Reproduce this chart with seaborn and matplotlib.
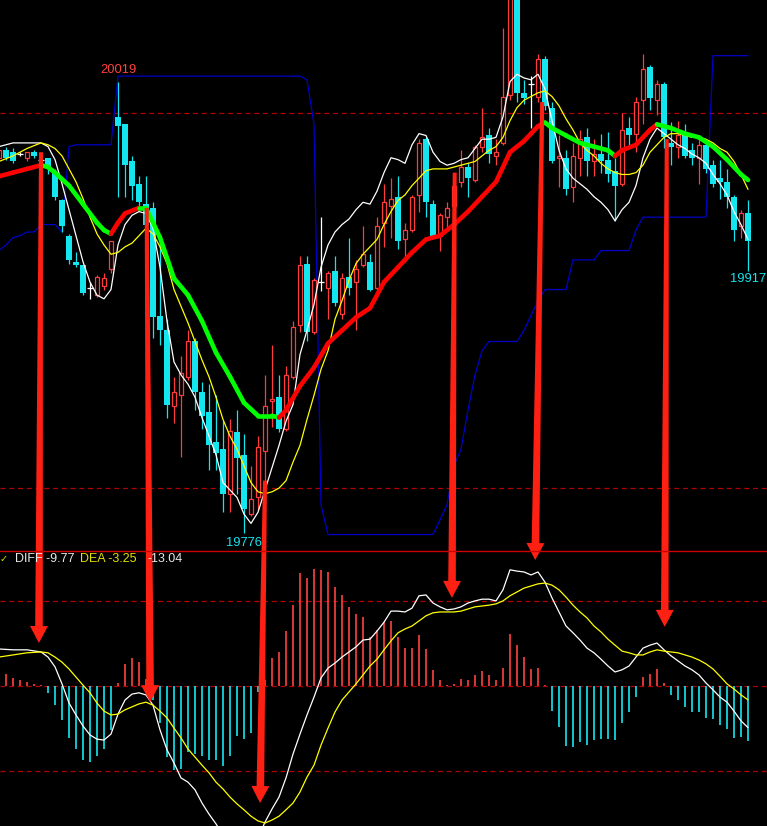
# %%
"""
Futures candlestick chart with moving averages, trailing channel line and MACD,
with red arrows marking the turning points.
"""

# %%
import numpy as np
import pandas as pd
import matplotlib
matplotlib.use("Agg")
import matplotlib.pyplot as plt
from matplotlib.collections import LineCollection
from matplotlib.lines import Line2D
from matplotlib.patches import Polygon
import seaborn as sns

# %%
# OHLC, one entry per bar (index 0 is the partial bar at the left edge)
opens = [19978, 19982, 19981, 19980, 19978, 19981, 19977, 19978, 19970, 19955,
         19936, 19922, 19920, 19908, 19904, 19909, 19918, 20000, 19996, 19976,
         19964, 19953, 19951, 19893, 19885, 19844, 19850, 19860, 19879, 19852,
         19841, 19825, 19821, 19797, 19830, 19818, 19786, 19795, 19820, 19847,
         19849, 19832, 19860, 19888, 19921, 19884, 19911, 19908, 19917, 19894,
         19914, 19911, 19920, 19922, 19908, 19943, 19952, 19957, 19934, 19939,
         19958, 19988, 19953, 19936, 19946, 19952, 19965, 19973, 19966, 19984,
         19990, 19979, 19986, 20012, 20071, 20013, 20018, 20011, 20031, 20005,
         19978, 19978, 19962, 19978, 19989, 19976, 19980, 19977, 19971, 19964,
         19994, 19991, 20009, 20027, 20009, 20018, 19986, 19984, 19991, 19982,
         19978, 19985, 19974, 19967, 19965, 19957, 19941, 19948]
highs = [19983, 19984, 19983, 19981, 19981, 19982, 19978, 19978, 19972, 19956,
         19937, 19927, 19920, 19911, 19915, 19916, 19933, 20019, 19996, 19979,
         19968, 19968, 19954, 19935, 19891, 19860, 19871, 19885, 19881, 19857,
         19856, 19850, 19836, 19837, 19842, 19829, 19812, 19828, 19861, 19877,
         19861, 19866, 19890, 19925, 19925, 19913, 19946, 19917, 19925, 19916,
         19935, 19923, 19941, 19926, 19946, 19964, 19967, 19968, 19943, 19958,
         19988, 19989, 19955, 19948, 19954, 19967, 19982, 19975, 19985, 20005,
         19994, 19988, 20048, 20075, 20080, 20020, 20022, 20034, 20033, 20008,
         19990, 19982, 19986, 19993, 19994, 19988, 19991, 19992, 19978, 20002,
         20000, 20011, 20034, 20028, 20020, 20019, 19997, 19998, 19996, 19986,
         19988, 19988, 19977, 19977, 19972, 19958, 19950, 19955]
lows = [19977, 19977, 19975, 19979, 19976, 19978, 19976, 19969, 19955, 19938,
        19921, 19919, 19904, 19902, 19903, 19907, 19916, 19957, 19957, 19955,
        19950, 19929, 19881, 19877, 19838, 19835, 19817, 19858, 19842, 19832,
        19810, 19810, 19787, 19787, 19797, 19776, 19785, 19788, 19804, 19833,
        19830, 19831, 19859, 19884, 19879, 19883, 19906, 19891, 19898, 19891,
        19904, 19885, 19919, 19906, 19905, 19930, 19935, 19929, 19922, 19938,
        19949, 19946, 19935, 19928, 19939, 19951, 19962, 19957, 19965, 19981,
        19975, 19974, 19985, 20009, 20008, 20007, 19994, 20008, 20004, 19975,
        19962, 19958, 19954, 19968, 19968, 19968, 19970, 19965, 19944, 19963,
        19985, 19981, 19996, 20004, 20001, 19983, 19974, 19978, 19978, 19974,
        19964, 19970, 19962, 19956, 19951, 19933, 19935, 19917]
closes = [19982, 19978, 19976, 19980, 19981, 19979, 19977, 19973, 19957, 19941,
          19923, 19920, 19905, 19908, 19914, 19913, 19933, 19995, 19974, 19963,
          19954, 19942, 19892, 19885, 19845, 19852, 19862, 19879, 19852, 19839,
          19823, 19819, 19797, 19831, 19816, 19789, 19794, 19822, 19844, 19848,
          19832, 19861, 19887, 19920, 19884, 19912, 19911, 19916, 19900, 19913,
          19908, 19918, 19926, 19907, 19941, 19954, 19956, 19933, 19939, 19957,
          19986, 19954, 19936, 19947, 19951, 19963, 19973, 19967, 19984, 19989,
          19980, 19981, 20011, 20068, 20013, 20010, 20018, 20031, 20006, 19976,
          19979, 19961, 19979, 19988, 19976, 19980, 19976, 19969, 19963, 19993,
          19990, 20008, 20026, 20010, 20018, 19989, 19984, 19990, 19979, 19978,
          19985, 19972, 19964, 19965, 19957, 19939, 19948, 19933]

# fast (white) and slow (yellow) averages, None where not read
ma_white = [19984, None, 19986, None, 19986, None, 19986, 19984, 19977, 19964,
            19950, 19936, 19922, 19911, 19904, 19902, 19907, 19931, 19942, 19947,
            19949, 19948, 19940, 19919, 19890, 19868, 19861, 19856, 19849, 19838,
            19828, 19818, 19803, 19799, 19795, 19786, 19781, 19787, 19799, 19811,
            19823, 19836, 19845, 19872, 19885, 19899, 19919, 19931, 19938, 19942,
            19945, 19950, 19954, 19953, 19960, 19970, 19978, 19977, 19975, 19985,
            19991, 19990, 19981, 19976, 19974, 19975, 19977, 19978, 19983, 19988,
            19988, 19989, 20000, 20019, 20023, 20021, 20020, 20023, 20015, 19998,
            19982, 19972, 19967, 19964, 19961, 19957, 19954, 19950, 19944, 19950,
            19954, 19963, 19978, 19988, 19994, 19991, 19988, 19985, 19983, 19980,
            19978, 19975, 19969, 19964, 19958, 19949, 19942, 19934]
ma_yellow = [19976, None, 19979, None, 19983, None, 19986, 19985, 19983, 19979,
             19972, 19965, 19956, 19946, 19937, 19931, 19926, 19927, 19930, 19932,
             19936, 19940, 19937, 19930, 19921, 19907, 19898, 19889, 19879, 19869,
             19860, 19849, 19837, 19828, 19821, 19812, 19803, 19798, 19797, 19798,
             19800, 19804, 19814, 19823, 19837, 19850, 19864, 19874, 19891, 19901,
             19912, 19921, 19926, 19930, 19934, 19942, 19949, 19955, 19958, 19963,
             19967, 19971, 19972, None, 19972, None, 19974, None, 19976, 19979,
             19982, 19984, 19989, 19998, 20005, 20009, 20011, 20013, 20014, 20011,
             20006, 19999, 19993, 19986, 19982, 19979, 19975, 19972, 19970, 19969,
             19969, 19970, 19974, 19981, 19985, 19989, 19991, 19991, 19990, 19989,
             19989, 19988, 19986, 19983, 19981, 19976, 19969, 19961]

# thick trend average (red rising / green falling)
ma_trend_idx = [0, 2, 4, 6, 7, 8, 10, 12, 14, 15, 16, 17, 18, 20, 21, 23, 25, 27, 29, 31,
                33, 35, 37, 39, 40, 41, 43, 45, 47, 49, 51, 53, 55, 57, 59, 61, 63, 65, 67, 69,
                71, 73, 75, 77, 78, 79, 81, 83, 85, 87, 88, 89, 91, 93, 94, 96, 98, 100, 102, 104,
                106, 107]
ma_trend_val = [19968, 19970, 19972, 19974, 19973, 19970, 19963, 19953, 19943, 19939,
                19937, 19943, 19948, 19951, 19951, 19935, 19913, 19904, 19890, 19873,
                19860, 19846, 19839, 19839, 19838, 19842, 19855, 19865, 19878, 19885,
                19892, 19897, 19911, 19919, 19927, 19934, 19936, 19942, 19949, 19957,
                19965, 19981, 19987, 19995, 19997, 19994, 19990, 19986, 19984, 19982,
                19979, 19982, 19985, 19993, 19996, 19994, 19991, 19989, 19984, 19977,
                19969, 19966]

# blue trailing channel line
channel = ([19928, 19931, 19935, 19936, 19938, 19938, 19942, 19942, 19942, 19938, 19984]
           + [19985] * 6 + [20022] * 27 + [20020, 19996, 19791] + [19775] * 16
           + [19783, 19791, 19812, 19821, 19842, 19861, 19874] + [19879] * 5
           + [19885, 19893, 19901] + [19907] * 4 + [19923] * 4 + [19928] * 5
           + [19939] + [19946] * 10 + [20033] * 6)

# MACD
macd_hist = [3.0, 2.8, 1.9, 1.4, 0.9, 0.4, 0.2, -1.6, -4.4, -8.0,
             -12.2, -14.8, -17.4, -17.8, -16.4, -14.8, -10.3, 0.7, 5.2, 6.5,
             5.7, 1.6, -3.3, -8.8, -16.8, -19.7, -19.5, -15.6, -16.0, -16.4,
             -17.4, -17.4, -18.7, -16.5, -11.7, -12.5, -11.1, -1.5, 1.3, 6.6,
             8.1, 13.0, 19.0, 26.5, 25.3, 27.5, 27.3, 26.7, 23.2, 21.4,
             18.5, 16.9, 16.3, 11.6, 13.2, 15.0, 15.3, 11.5, 8.9, 8.9,
             12.0, 8.7, 3.8, 1.4, 0.3, 0.5, 1.6, 1.3, 2.7, 3.6,
             2.7, 1.5, 4.2, 12.2, 9.6, 6.7, 4.0, 4.2, 0.3, -5.8,
             -9.6, -14.0, -14.4, -13.2, -13.8, -12.8, -12.5, -12.5, -12.7, -8.8,
             -6.2, -2.5, 2.2, 2.8, 4.0, 0.7, -2.0, -3.3, -5.0, -6.2,
             -6.0, -7.5, -7.8, -9.1, -10.1, -12.3, -11.9, -13.04]
macd_diff = [8.7, None, 8.5, None, 8.5, None, 8.0, 6.8, 4.5, 0.5,
             -4.0, -6.8, -9.4, -11.5, -12.5, -12.7, -11.3, -6.6, -3.3, -1.9,
             -1.6, -2.1, -4.5, -10.3, -15.0, -18.1, -21.6, -22.6, -24.4, -27.5,
             -30.1, -32.4, -35.0, -36.7, -38.0, -38.5, -38.0, -35.7, -32.0, -28.9,
             -26.1, -21.6, -16.0, -11.3, -6.8, -2.6, 1.9, 4.2, 5.4, 6.8,
             8.0, 9.2, 10.8, 11.0, 12.9, 15.0, 17.6, 17.6, 17.4, 18.3,
             21.2, 21.4, 19.5, 18.6, 17.9, 18.1, 18.6, 19.5, 20.0, 20.4,
             20.4, 20.0, 22.6, 27.3, 27.0, 26.8, 26.1, 26.8, 24.4, 20.7,
             17.4, 14.1, 12.5, 10.8, 8.9, 7.8, 6.3, 4.7, 3.3, 3.8,
             4.7, 6.8, 8.9, 9.6, 10.1, 8.5, 7.1, 5.9, 4.7, 3.8,
             2.6, 0.7, -0.9, -2.6, -3.8, -5.9, -8.2, -9.77]
macd_dea = [6.8, None, 7.3, None, 7.8, None, 8.0, 7.8, 6.8, 5.6,
            4.0, 2.1, 0.2, -1.6, -4.0, -5.9, -6.8, -6.6, -5.6, -4.9,
            -4.2, -3.8, -4.5, -5.9, -7.5, -9.9, -12.2, -14.8, -16.7, -18.6,
            -20.4, -22.6, -24.2, -26.1, -27.7, -29.1, -30.6, -31.7, -32.2, -31.5,
            -30.6, -29.1, -27.5, -24.9, -21.4, -18.6, -13.9, -9.9, -6.1, -3.3,
            -1.4, 0.5, 2.6, 4.7, 6.3, 8.5, 10.6, 12.5, 13.4, 14.1,
            15.3, 16.5, 17.2, 17.4, 17.4, 17.4, 17.6, 18.1, 18.6, 18.8,
            19.0, 19.3, 20.0, 21.2, 22.1, 23.0, 23.5, 24.0, 24.2, 23.7,
            22.6, 20.9, 19.0, 17.4, 16.0, 14.1, 12.7, 11.0, 9.6, 8.2,
            7.8, 7.3, 7.3, 8.0, 8.5, 8.2, 8.0, 7.8, 7.3, 6.8,
            6.1, 5.2, 4.0, 2.3, 0.5, -0.7, -2.1, -3.25]

# reference levels
price_levels = [20002, 19800]
macd_levels = [20, 0, -20]

# arrows: from (bar, price) in the upper panel to (bar, MACD value) below
arrow_from_bar = [6.0, 21.1, 38.0, 65.1, 77.6, 95.4]
arrow_from_price = [19981, 19951, 19804, 19970, 20008, 19988]
arrow_to_bar = [5.7, 21.6, 37.3, 64.7, 76.6, 95.1]
arrow_to_macd = [10.1, -3.8, -27.5, 20.7, 29.6, 13.9]

# %%
RED = "#ff3c3c"
CYAN = "#14e6f0"
BLUE = "#0000c8"
GRID_RED = "#b00000"
ARROW_RED = "#ff2014"

sns.set_theme(style="dark", rc={"axes.facecolor": "black", "figure.facecolor": "black"})
plt.rcParams["font.family"] = ["Liberation Sans", "DejaVu Sans"]

W, H = 767, 826
fig = plt.figure(figsize=(W / 100, H / 100), dpi=100)
ax = fig.add_axes([0, 276 / H, 1, 550 / H])
ax2 = fig.add_axes([0, 0, 1, 275 / H])

for a in (ax, ax2):
    a.set_facecolor("black")
    a.set_xlim(1 / 7, 768 / 7)
    a.set_xticks([])
    a.set_yticks([])
    a.grid(False)
    for s in a.spines.values():
        s.set_visible(False)

ax.set_ylim(20063 - 0.5388 * 550, 20063)
ax2.set_ylim((686 - 826) * 0.235, (686 - 551) * 0.235)

# %%
# candles
df = pd.DataFrame({"open": opens, "high": highs, "low": lows, "close": closes})
df["i"] = np.arange(len(df))
up = df[df.close > df.open]
dn = df[df.close < df.open]
fl = df[df.close == df.open]

ax.vlines(up.i, up.close, up.high, color=RED, lw=0.9, zorder=2)
ax.vlines(up.i, up.low, up.open, color=RED, lw=0.9, zorder=2)
ax.bar(up.i, up.close - up.open, bottom=up.open, width=0.7,
       facecolor="black", edgecolor=RED, linewidth=0.9, zorder=2)

ax.vlines(dn.i, dn.low, dn.high, color=CYAN, lw=0.9, zorder=2)
ax.bar(dn.i, dn.open - dn.close, bottom=dn.close, width=0.8,
       color=CYAN, linewidth=0, zorder=2)

ax.vlines(fl.i, fl.low, fl.high, color="white", lw=0.9, zorder=2)
ax.hlines(fl.open, fl.i - 0.4, fl.i + 0.4, color="white", lw=0.9, zorder=2)

# channel and averages
sns.lineplot(x=df.i, y=channel, ax=ax, color=BLUE, lw=0.9, estimator=None, zorder=1)
w = pd.Series(ma_white, dtype=float).dropna()
sns.lineplot(x=w.index, y=w.values, ax=ax, color="white", lw=0.9, estimator=None, zorder=3)
yl = pd.Series(ma_yellow, dtype=float).dropna()
sns.lineplot(x=yl.index, y=yl.values, ax=ax, color="#ffff00", lw=0.9, estimator=None, zorder=3)

tv = np.array(ma_trend_val, dtype=float)
pts = np.column_stack([ma_trend_idx, tv])
segs = np.stack([pts[:-1], pts[1:]], axis=1)
cols = np.where(np.diff(tv) > 0, "#ff0000", "#00ff00")
ax.add_collection(LineCollection(segs, colors=cols, linewidths=3.3,
                                 capstyle="round", zorder=4))

for lv in price_levels:
    ax.axhline(lv, color=GRID_RED, lw=0.9, ls=(0, (4, 3)), zorder=0)

# extreme labels
ax.annotate(f"{highs[17]}", xy=(17, highs[17]), xytext=(0, 12), textcoords="offset pixels",
            ha="center", va="center", color="#ff4040", fontsize=9.3)
ax.annotate(f"{lows[35]}", xy=(35, lows[35]), xytext=(0, -10), textcoords="offset pixels",
            ha="center", va="center", color=CYAN, fontsize=9.3)
ax.annotate(f"{lows[107]}", xy=(107, lows[107]), xytext=(0, -8), textcoords="offset pixels",
            ha="center", va="center", color=CYAN, fontsize=9.3)

# %%
# MACD panel
hist = np.array(macd_hist)
ax2.vlines(df.i, 0, hist, colors=np.where(hist > 0, "#ff4040", CYAN), lw=1.2, zorder=2)
d = pd.Series(macd_diff, dtype=float).dropna()
sns.lineplot(x=d.index, y=d.values, ax=ax2, color="white", lw=0.9, estimator=None, zorder=3)
e = pd.Series(macd_dea, dtype=float).dropna()
sns.lineplot(x=e.index, y=e.values, ax=ax2, color="#ffff00", lw=0.9, estimator=None, zorder=3)
for lv in macd_levels:
    ax2.axhline(lv, color=GRID_RED, lw=0.9, ls=(0, (4, 3)), zorder=0)

for a in (ax, ax2):
    a.set_xlabel("")
    a.set_ylabel("")

fig.add_artist(Line2D([0, 1], [(H - 550.5) / H] * 2, color="#d00000", lw=1))

ty = 1 - 559 / H
fig.text(0 / W, ty, "\u2713", color="#e0e000", fontsize=7, va="center", family="DejaVu Sans")
fig.text(15 / W, ty, f"DIFF {macd_diff[-1]:.2f}", color="#e8e8e8", fontsize=9, va="center")
fig.text(80 / W, ty, f"DEA {macd_dea[-1]:.2f}", color="#e0e000", fontsize=9, va="center")
fig.text(148 / W, ty, f"{macd_hist[-1]:.2f}", color="#e8e8e8", fontsize=9, va="center")

# %%
# arrows on top, drawn in pixel space
ov = fig.add_axes([0, 0, 1, 1])
ov.set_xlim(0, W)
ov.set_ylim(H, 0)
ov.axis("off")
to_ov = ov.transData.inverted()

for fb, fp, tb, tm in zip(arrow_from_bar, arrow_from_price, arrow_to_bar, arrow_to_macd):
    s = to_ov.transform(ax.transData.transform((fb, fp)))
    t = to_ov.transform(ax2.transData.transform((tb, tm)))
    dvec = (t - s) / np.linalg.norm(t - s)
    nvec = np.array([-dvec[1], dvec[0]])
    neck = t - dvec * 17
    poly = [s + nvec * 2.0, neck + nvec * 3.8, neck + nvec * 9.0, t,
            neck - nvec * 9.0, neck - nvec * 3.8, s - nvec * 2.0]
    ov.add_patch(Polygon(poly, closed=True, facecolor=ARROW_RED, edgecolor="none", zorder=10))

fig.savefig("out.png", dpi=100, facecolor="black")
